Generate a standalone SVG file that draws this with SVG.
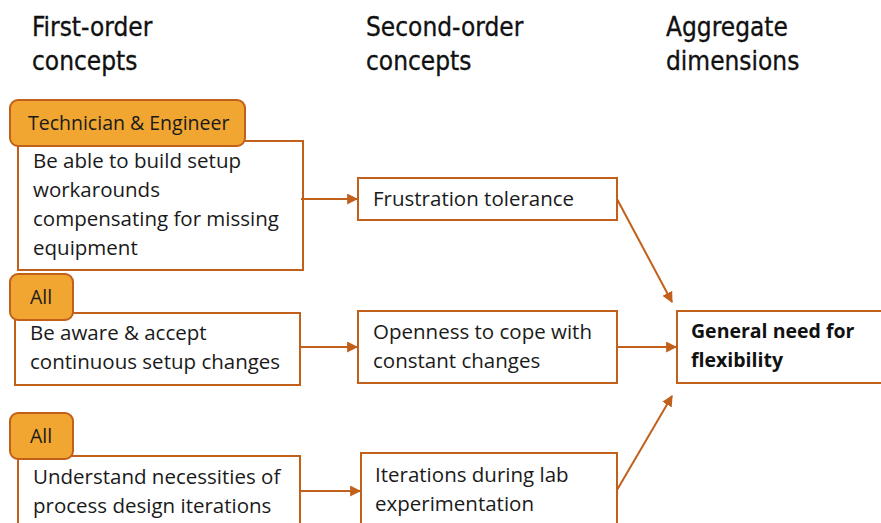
<svg xmlns="http://www.w3.org/2000/svg" width="881" height="523" viewBox="0 0 881 523">
  <defs>
    <marker id="arrow" viewBox="0 0 10 10" refX="9" refY="5" markerWidth="11" markerHeight="11" markerUnits="userSpaceOnUse" orient="auto">
      <path d="M0,0 L10,5 L0,10 z" fill="#C0601A"/>
    </marker>
  </defs>
  <style>
    .head { font-family: "DejaVu Sans Condensed", "DejaVu Sans", sans-serif; font-size: 26px; fill: #111; stroke: #111; stroke-width: 0.3; }
    .txt { font-family: "Open Sans", "Liberation Sans", sans-serif; font-size: 20.5px; fill: #1a1a1a; }
    .tagtxt { font-family: "Open Sans", "Liberation Sans", sans-serif; font-size: 19.5px; fill: #1a1a1a; }
    .bold { font-family: "Open Sans", "Liberation Sans", sans-serif; font-size: 19.5px; font-weight: bold; fill: #111; }
    .box { fill: #fff; stroke: #C0601A; stroke-width: 2; }
    .tag { fill: #F0A630; stroke: #C0601A; stroke-width: 2; }
    .conn { stroke: #C0601A; stroke-width: 2; fill: none; marker-end: url(#arrow); }
  </style>
  <rect width="881" height="523" fill="#fff"/>

  <!-- column headers -->
  <g id="headers">
    <text class="head" x="32" y="36">First-order</text>
    <text class="head" x="32" y="70">concepts</text>
    <text class="head" x="366" y="36">Second-order</text>
    <text class="head" x="366" y="70">concepts</text>
    <text class="head" x="666" y="36">Aggregate</text>
    <text class="head" x="666" y="70">dimensions</text>
  </g>

  <!-- first-order concepts -->
  <g id="fo1">
    <rect class="box" x="18" y="141" width="285" height="129"/>
    <text class="txt" x="33" y="168">Be able to build setup</text>
    <text class="txt" x="33" y="197">workarounds</text>
    <text class="txt" x="33" y="226">compensating for missing</text>
    <text class="txt" x="33" y="255">equipment</text>
  </g>
  <g id="tag1">
    <rect class="tag" x="10" y="100" width="235" height="46" rx="8"/>
    <text class="tagtxt" x="28" y="130">Technician &amp; Engineer</text>
  </g>

  <g id="fo2">
    <rect class="box" x="15" y="313" width="285" height="72"/>
    <text class="txt" x="30" y="340">Be aware &amp; accept</text>
    <text class="txt" x="30" y="369">continuous setup changes</text>
  </g>
  <g id="tag2">
    <rect class="tag" x="10" y="274" width="63" height="46" rx="8"/>
    <text class="tagtxt" x="30" y="304">All</text>
  </g>

  <g id="fo3">
    <rect class="box" x="18" y="456" width="282" height="80"/>
    <text class="txt" x="33" y="484">Understand necessities of</text>
    <text class="txt" x="33" y="513">process design iterations</text>
  </g>
  <g id="tag3">
    <rect class="tag" x="10" y="413" width="63" height="46" rx="8"/>
    <text class="tagtxt" x="30" y="443">All</text>
  </g>

  <!-- second-order concepts -->
  <g id="so1">
    <rect class="box" x="358" y="178" width="259" height="42"/>
    <text class="txt" x="373" y="206">Frustration tolerance</text>
  </g>
  <g id="so2">
    <rect class="box" x="358" y="311" width="259" height="72"/>
    <text class="txt" x="373" y="339">Openness to cope with</text>
    <text class="txt" x="373" y="368">constant changes</text>
  </g>
  <g id="so3">
    <rect class="box" x="361" y="453" width="256" height="80"/>
    <text class="txt" x="375" y="482">Iterations during lab</text>
    <text class="txt" x="375" y="511">experimentation</text>
  </g>

  <!-- aggregate dimension -->
  <g id="agg">
    <rect class="box" x="677" y="311" width="214" height="72"/>
    <text class="bold" x="691" y="338">General need for</text>
    <text class="bold" x="691" y="367">flexibility</text>
  </g>

  <!-- connectors -->
  <g id="connectors">
    <line class="conn" x1="301" y1="199" x2="357" y2="199"/>
    <line class="conn" x1="300" y1="347" x2="357" y2="347"/>
    <line class="conn" x1="300" y1="491" x2="360" y2="491"/>
    <line class="conn" x1="617" y1="347" x2="676" y2="347"/>
    <line class="conn" x1="617" y1="199" x2="672" y2="302"/>
    <line class="conn" x1="617" y1="490" x2="672" y2="396"/>
  </g>
</svg>
